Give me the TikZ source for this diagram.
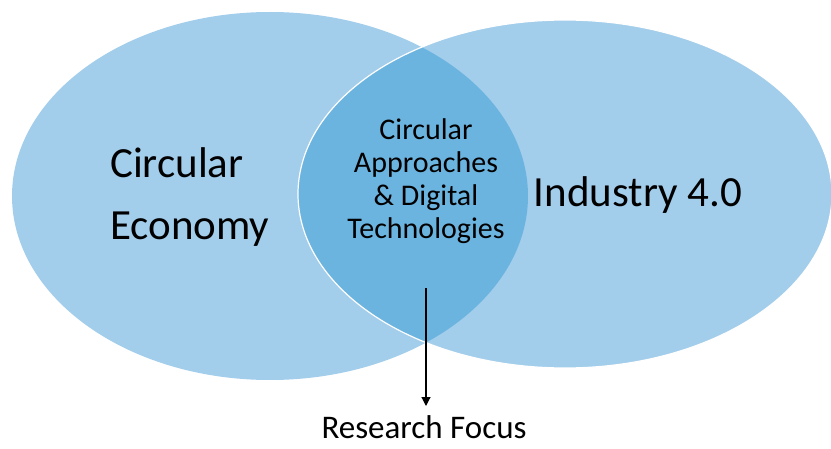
\documentclass[tikz,border=0pt]{standalone}
\usepackage{fontspec}
\setmainfont{Carlito}
\usetikzlibrary{arrows.meta}

\definecolor{setblue}{RGB}{162,205,235}
\definecolor{lensblue}{RGB}{108,180,224}

\begin{document}
\begin{tikzpicture}[x=1pt, y=1pt,
    bigtext/.style={font=\fontsize{43}{62}\selectfont, inner sep=0pt},
    smalltext/.style={font=\fontsize{30}{33}\selectfont, inner sep=0pt}]
        \useasboundingbox (0, 0) rectangle (831, 448);

        % the two sets
        \fill[setblue] (270, 252) ellipse [x radius=258, y radius=184];
        \fill[setblue] (565, 254) ellipse [x radius=267, y radius=174];

        % overlap
        \begin{scope}
            \clip (270, 252) ellipse [x radius=258, y radius=184];
            \fill[lensblue] (565, 254) ellipse [x radius=267, y radius=174];
        \end{scope}
        \draw[white, line width=1.2pt] (565, 254) ellipse [x radius=267, y radius=174];

        \node[bigtext, align=left, anchor=west] (ce) at (110, 251) {Circular\\Economy};
        \node[bigtext, anchor=base] (ind) at (638, 241) {Industry 4.0};
        \node[smalltext, align=center] (lens) at (426, 267) {Circular\\Approaches\\\& Digital\\Technologies};

        \node[font=\fontsize{33}{38}\selectfont, inner sep=0pt, anchor=base] (focus) at (424, 10) {Research Focus};
        \coordinate (start) at (426, 160);

        \draw[-{Triangle[width=9pt, length=9pt]}, line width=1.2pt] (start) -- (start |- 0, 42);
\end{tikzpicture}
\end{document}
